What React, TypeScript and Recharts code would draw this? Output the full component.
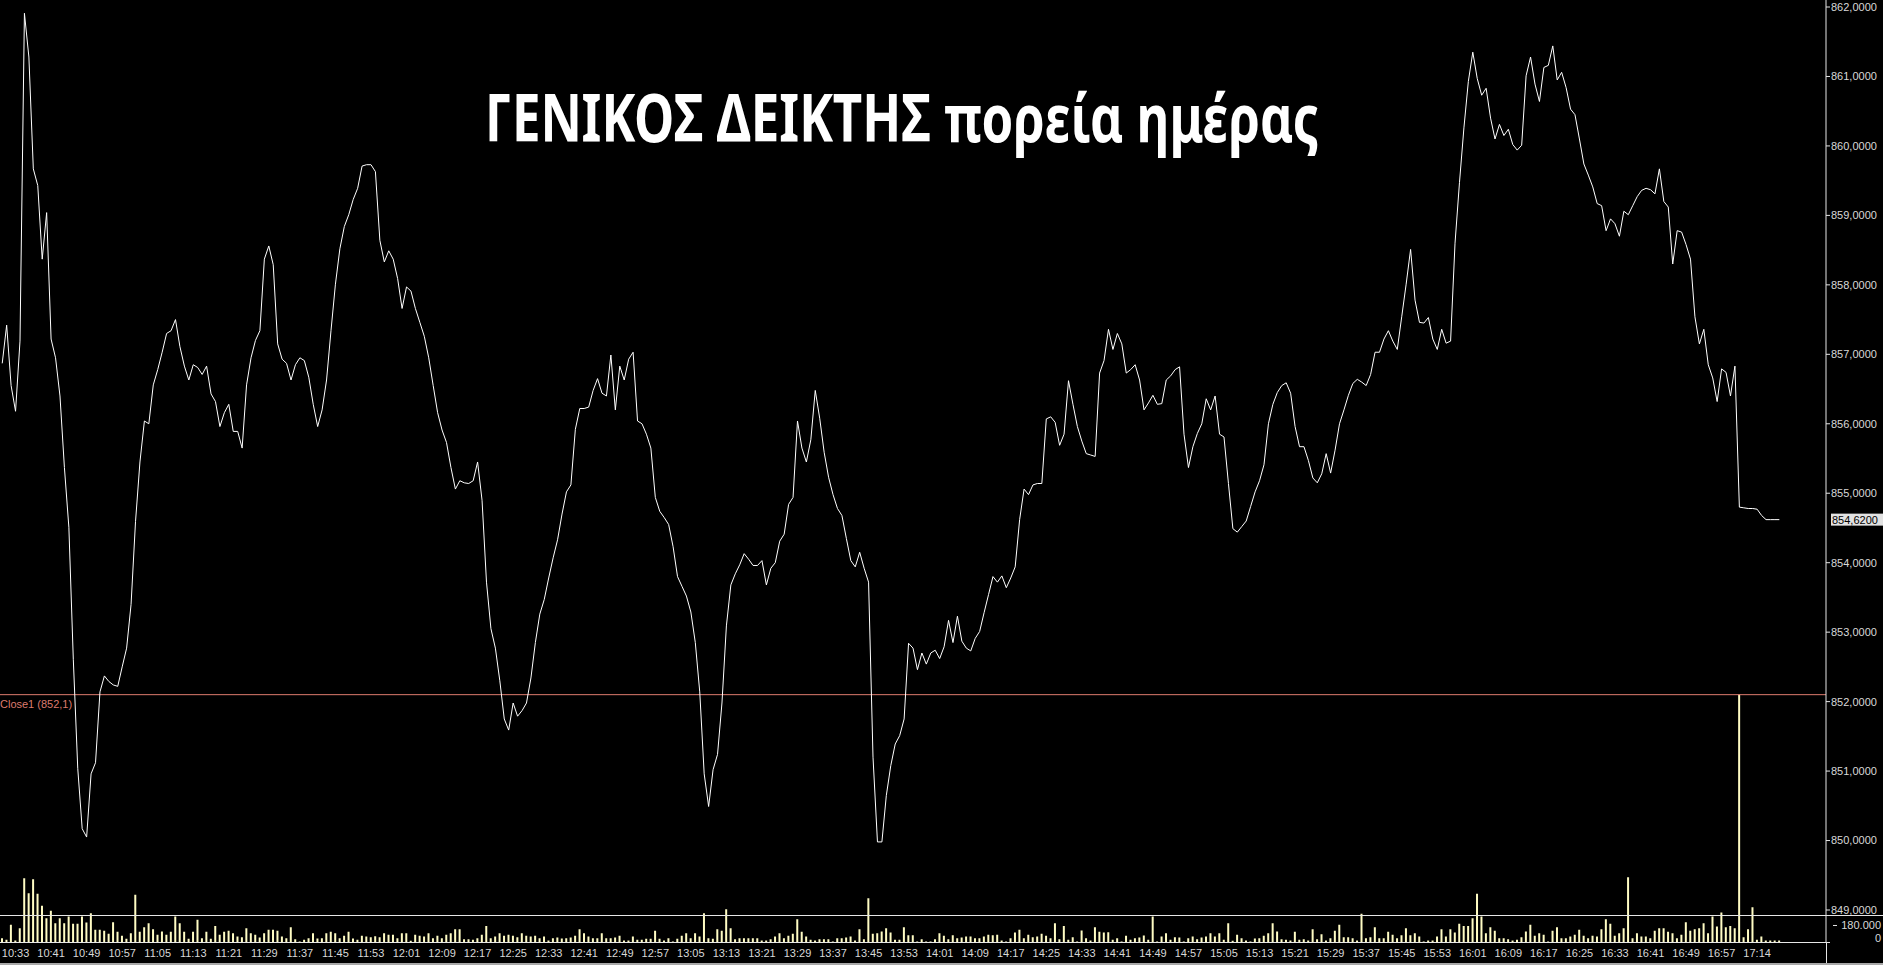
import { ComposedChart, Line, Bar, XAxis, YAxis, ReferenceLine } from 'recharts';

const W = 1883;
const H = 965;
const AXIS_W = 57;
const XAXIS_H = 22.5;
const TEXT = '#d8d8d8';
const AXIS = '#e6e6e6';
const CLOSE = '#dd7b6e';
const SMALL_FONT = '"Liberation Sans", Arial, sans-serif';

const priceTicks = [849, 850, 851, 852, 853, 854, 855, 856, 857, 858, 859, 860, 861, 862];

const timeTicks = [
  '10:33', '10:41', '10:49', '10:57', '11:05', '11:13', '11:21', '11:29', '11:37', '11:45',
  '11:53', '12:01', '12:09', '12:17', '12:25', '12:33', '12:41', '12:49', '12:57', '13:05',
  '13:13', '13:21', '13:29', '13:37', '13:45', '13:53', '14:01', '14:09', '14:17', '14:25',
  '14:33', '14:41', '14:49', '14:57', '15:05', '15:13', '15:21', '15:29', '15:37', '15:45',
  '15:53', '16:01', '16:09', '16:17', '16:25', '16:33', '16:41', '16:49', '16:57', '17:14',
];

// index value, one per minute
const price = [
  856.87, 857.42, 856.55, 856.18, 857.19, 861.91, 861.28, 859.67, 859.43, 858.37,
  859.04, 857.22, 856.95, 856.40, 855.37, 854.51, 852.61, 851.04, 850.17, 850.05,
  850.96, 851.12, 852.14, 852.37, 852.29, 852.24, 852.22, 852.50, 852.77, 853.40,
  854.59, 855.45, 856.04, 856.00, 856.56, 856.78, 857.03, 857.30, 857.34, 857.50,
  857.11, 856.83, 856.63, 856.85, 856.81, 856.71, 856.83, 856.43, 856.32, 855.96,
  856.16, 856.28, 855.89, 855.89, 855.65, 856.56, 856.95, 857.20, 857.34, 858.37,
  858.56, 858.29, 857.15, 856.93, 856.87, 856.63, 856.85, 856.95, 856.91, 856.67,
  856.28, 855.96, 856.20, 856.63, 857.34, 858.01, 858.52, 858.84, 859.01, 859.23,
  859.39, 859.71, 859.73, 859.73, 859.63, 858.64, 858.33, 858.49, 858.37, 858.09,
  857.66, 857.97, 857.91, 857.66, 857.46, 857.26, 856.95, 856.55, 856.16, 855.91,
  855.73, 855.37, 855.06, 855.18, 855.15, 855.14, 855.18, 855.45, 854.90, 853.72,
  853.05, 852.77, 852.30, 851.75, 851.59, 851.98, 851.79, 851.87, 851.98, 852.34,
  852.85, 853.26, 853.47, 853.78, 854.07, 854.33, 854.70, 855.02, 855.12, 855.92,
  856.22, 856.22, 856.24, 856.48, 856.65, 856.44, 856.40, 856.99, 856.20, 856.83,
  856.63, 856.93, 857.03, 856.04, 856.00, 855.85, 855.65, 854.94, 854.74, 854.65,
  854.55, 854.23, 853.80, 853.66, 853.52, 853.29, 852.85, 852.14, 850.96, 850.49,
  851.02, 851.24, 851.98, 853.09, 853.68, 853.84, 853.97, 854.13, 854.05, 853.96,
  853.96, 854.03, 853.68, 853.92, 854.00, 854.31, 854.41, 854.84, 854.94, 856.04,
  855.65, 855.45, 855.77, 856.48, 856.08, 855.59, 855.23, 854.98, 854.78, 854.68,
  854.35, 854.03, 853.94, 854.15, 853.92, 853.72, 851.20, 849.98, 849.98, 850.65,
  851.08, 851.39, 851.51, 851.75, 852.84, 852.77, 852.46, 852.70, 852.54, 852.70,
  852.74, 852.62, 852.79, 853.17, 852.85, 853.23, 852.87, 852.77, 852.73, 852.91,
  853.01, 853.28, 853.54, 853.80, 853.72, 853.81, 853.64, 853.78, 853.94, 854.62,
  855.06, 854.98, 855.12, 855.14, 855.14, 856.07, 856.10, 856.02, 855.69, 855.85,
  856.62, 856.28, 855.96, 855.75, 855.57, 855.55, 855.53, 856.73, 856.91, 857.36,
  857.07, 857.30, 857.15, 856.73, 856.78, 856.85, 856.63, 856.20, 856.30, 856.41,
  856.28, 856.29, 856.63, 856.69, 856.78, 856.82, 855.85, 855.37, 855.67, 855.86,
  856.00, 856.36, 856.20, 856.40, 855.85, 855.81, 855.14, 854.49, 854.44, 854.52,
  854.60, 854.81, 855.02, 855.18, 855.41, 856.00, 856.28, 856.45, 856.55, 856.59,
  856.44, 855.96, 855.67, 855.67, 855.47, 855.22, 855.15, 855.28, 855.57, 855.29,
  855.62, 856.00, 856.20, 856.41, 856.58, 856.64, 856.60, 856.55, 856.71, 857.03,
  857.03, 857.22, 857.34, 857.19, 857.07, 857.54, 858.01, 858.51, 857.78, 857.46,
  857.45, 857.53, 857.22, 857.07, 857.36, 857.16, 857.19, 858.60, 859.47, 860.26,
  860.93, 861.35, 860.97, 860.73, 860.83, 860.40, 860.10, 860.31, 860.15, 860.24,
  860.02, 859.94, 860.01, 861.01, 861.28, 860.89, 860.64, 861.13, 861.16, 861.44,
  860.95, 861.06, 860.84, 860.53, 860.45, 860.10, 859.74, 859.58, 859.41, 859.17,
  859.14, 858.78, 858.95, 858.88, 858.70, 859.06, 859.01, 859.14, 859.27, 859.36,
  859.39, 859.37, 859.31, 859.67, 859.20, 859.12, 858.30, 858.78, 858.76, 858.58,
  858.37, 857.54, 857.15, 857.36, 856.85, 856.66, 856.32, 856.79, 856.74, 856.40,
  856.83, 854.80, 854.79, 854.78, 854.78, 854.77, 854.68, 854.62, 854.62, 854.62,
  854.62,
];

// volume per minute, thousands
const volumeK = [
  46, 28, 187, 21, 152, 681, 522, 670, 515, 388,
  258, 335, 205, 258, 205, 275, 198, 198, 275, 212,
  311, 134, 134, 124, 92, 215, 113, 71, 39, 99,
  505, 113, 162, 205, 141, 81, 116, 81, 113, 275,
  205, 113, 39, 113, 240, 46, 113, 39, 176, 81,
  113, 124, 99, 64, 56, 152, 99, 81, 53, 99,
  134, 134, 124, 64, 46, 162, 35, 11, 28, 46,
  99, 42, 46, 99, 113, 99, 46, 71, 113, 42,
  28, 71, 64, 56, 67, 56, 99, 81, 81, 46,
  99, 99, 18, 81, 71, 64, 99, 46, 71, 46,
  81, 99, 141, 141, 35, 35, 28, 46, 81, 176,
  46, 64, 99, 71, 81, 71, 56, 99, 71, 64,
  71, 46, 64, 21, 46, 53, 42, 46, 53, 71,
  141, 99, 64, 46, 46, 99, 46, 46, 53, 71,
  21, 21, 64, 28, 28, 39, 39, 124, 39, 21,
  46, 11, 39, 71, 99, 46, 99, 64, 311, 46,
  39, 141, 124, 353, 152, 35, 46, 46, 46, 46,
  46, 21, 21, 35, 64, 99, 46, 71, 92, 247,
  113, 64, 28, 21, 35, 35, 35, 11, 46, 46,
  53, 64, 21, 141, 35, 469, 92, 99, 116, 152,
  106, 28, 28, 162, 78, 78, 11, 35, 11, 11,
  35, 99, 71, 35, 78, 46, 53, 64, 64, 46,
  46, 64, 81, 78, 81, 21, 11, 46, 106, 134,
  46, 81, 56, 64, 92, 71, 46, 205, 35, 176,
  28, 56, 11, 127, 46, 21, 162, 113, 106, 109,
  28, 46, 11, 71, 28, 46, 53, 74, 28, 275,
  11, 64, 99, 28, 56, 53, 11, 46, 64, 35,
  53, 64, 99, 64, 99, 28, 205, 18, 81, 46,
  21, 11, 42, 46, 71, 99, 205, 116, 35, 28,
  21, 113, 28, 35, 21, 141, 35, 88, 21, 46,
  124, 187, 56, 56, 46, 21, 304, 46, 56, 162,
  46, 46, 113, 81, 46, 78, 152, 78, 99, 64,
  11, 21, 21, 64, 141, 64, 141, 106, 198, 176,
  176, 258, 515, 275, 99, 162, 124, 46, 46, 35,
  21, 28, 56, 116, 187, 71, 99, 81, 11, 124,
  162, 46, 46, 64, 81, 134, 71, 46, 71, 64,
  141, 247, 198, 71, 99, 152, 692, 46, 99, 64,
  64, 46, 124, 152, 152, 113, 99, 46, 81, 215,
  124, 141, 152, 205, 99, 275, 169, 318, 162, 176,
  152, 2626, 56, 141, 374, 28, 64, 21, 21, 21,
  21,
];

const closeRef = 852.1;
const volumeTickK = 180;

// minute slots: 10:30-16:59, 17:00, then 17:10-17:19 after the closing auction
const hhmm = (m: number) => `${Math.floor(m / 60)}:${String(m % 60).padStart(2, '0')}`;
const slotTimes: string[] = [];
for (let m = 630; m < 1020; m++) slotTimes.push(hhmm(m));
slotTimes.push('17:00');
for (let m = 1030; m < 1040; m++) slotTimes.push(hhmm(m));

const rows: any[] = slotTimes.map((t, i) => ({ t, price: price[i], vol: volumeK[i] }));
// empty room at the right edge, as in the terminal
for (let k = 0; k < 10; k++) rows.push({ t: `pad${k}` });

const fmt4 = (v: number) => v.toFixed(4).replace('.', ',');
const lastPrice = price[price.length - 1];
const closeText = `Close1 (${String(closeRef).replace('.', ',')})`;

function vb(props: any) {
  return props.viewBox ?? { x: props.x, y: props.y, width: props.width, height: props.height };
}

function TimeTick({ x, y, payload }: any) {
  if (!timeTicks.includes(payload.value)) return <g />;
  return (
    <text x={x} y={y} dy="0.71em" textAnchor="middle" fill={TEXT} fontSize={11} fontFamily={SMALL_FONT}>
      {payload.value}
    </text>
  );
}

function CloseLabel(props: any) {
  const v = vb(props);
  return (
    <text x={v.x} y={v.y + 13} fill={CLOSE} fontSize={11} fontFamily={SMALL_FONT}>
      {closeText}
    </text>
  );
}

function VolLabel(props: any) {
  const v = vb(props);
  const ax = v.x + v.width;
  return (
    <g>
      <line x1={ax + props.t0} x2={ax + props.t1} y1={v.y} y2={v.y} stroke={AXIS} />
      <text x={W - 2} y={v.y + props.dyText} textAnchor="end" fill={TEXT} fontSize={11} fontFamily={SMALL_FONT}>
        {props.text}
      </text>
    </g>
  );
}

function LastLabel(props: any) {
  const v = vb(props);
  const ax = v.x + v.width;
  return (
    <g>
      <rect x={ax + 5} y={v.y - 6} width={W - ax - 5} height={12} fill="#e2e2e2" />
      <text x={ax + 6} y={v.y + 4} fill="#000" fontSize={11} fontFamily={SMALL_FONT}>
        {fmt4(lastPrice)}
      </text>
    </g>
  );
}

export default function App() {
  const plotRight = W - AXIS_W;
  return (
    <div style={{ position: 'fixed', left: 0, top: 0, width: W, height: H, background: '#000', overflow: 'hidden' }}>
      <ComposedChart width={W} height={H} data={rows} margin={{ top: 0, right: 0, bottom: 0, left: 0 }}>
        <XAxis
          dataKey="t"
          height={XAXIS_H}
          interval={0}
          tickLine={false}
          tickMargin={1}
          axisLine={{ stroke: AXIS }}
          tick={<TimeTick />}
        />
        <YAxis
          yAxisId="p"
          orientation="right"
          width={AXIS_W}
          domain={[848.532, 862.101]}
          allowDataOverflow
          ticks={priceTicks}
          interval={0}
          tickSize={4}
          tickMargin={1}
          axisLine={{ stroke: AXIS }}
          tickLine={{ stroke: AXIS }}
          tick={{ fill: TEXT, fontSize: 11, fontFamily: SMALL_FONT }}
          tickFormatter={fmt4}
        />
        <YAxis yAxisId="v" hide domain={[0, 9979]} allowDataOverflow />
        <Bar yAxisId="v" dataKey="vol" fill="#fffcc4" barSize={2} isAnimationActive={false} />
        <ReferenceLine yAxisId="p" y={closeRef} stroke={CLOSE} label={<CloseLabel />} />
        <Line
          yAxisId="p"
          type="linear"
          dataKey="price"
          stroke="#ffffff"
          strokeWidth={1}
          dot={false}
          activeDot={false}
          isAnimationActive={false}
        />
        <ReferenceLine
          yAxisId="v"
          y={volumeTickK}
          stroke="none"
          label={<VolLabel text="180.000" dyText={3.5} t0={7} t1={11} />}
        />
        <ReferenceLine yAxisId="v" y={0} stroke="none" label={<VolLabel text="0" dyText={-0.5} t0={0} t1={4} />} />
        <ReferenceLine yAxisId="p" y={lastPrice} stroke="none" label={<LastLabel />} />
      </ComposedChart>
      {/* pane separator, axis continuation and window border */}
      <div style={{ position: 'absolute', left: 0, top: 915, width: W, height: 1, background: AXIS }} />
      <div style={{ position: 'absolute', left: plotRight, top: 942, width: 1, height: H - 942, background: AXIS }} />
      <div style={{ position: 'absolute', left: 0, top: 963, width: W, height: 2, background: '#a8a8a8' }} />
      <svg width={W} height={H} style={{ position: 'absolute', left: 0, top: 0, pointerEvents: 'none' }}>
        <text
          x={485}
          y={142}
          textLength={834}
          lengthAdjust="spacingAndGlyphs"
          fill="#fff"
          fontSize={66}
          fontWeight="bold"
          fontFamily='"Noto Sans", "Open Sans", sans-serif'
        >
          ΓΕΝΙΚΟΣ ΔΕΙΚΤΗΣ πορεία ημέρας
        </text>
      </svg>
    </div>
  );
}
